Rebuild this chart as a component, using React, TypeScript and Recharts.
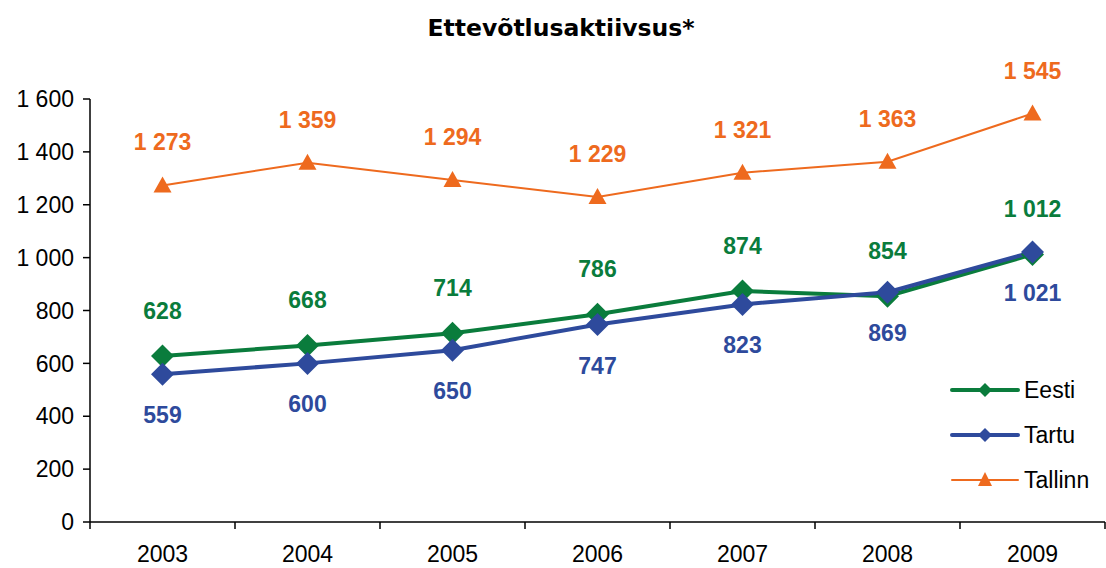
import { LineChart, Line, XAxis, YAxis, LabelList } from "recharts";

const years = ["2003", "2004", "2005", "2006", "2007", "2008", "2009"];
const eesti = [628, 668, 714, 786, 874, 854, 1012];
const tartu = [559, 600, 650, 747, 823, 869, 1021];
const tallinn = [1273, 1359, 1294, 1229, 1321, 1363, 1545];
const yTicks = [0, 200, 400, 600, 800, 1000, 1200, 1400, 1600];

const GREEN = "#0A7C3C";
const BLUE = "#2E4A9C";
const ORANGE = "#EE6A1E";
const FONT = "'Liberation Sans', Arial, sans-serif";

const W = 1106;
const H = 568;
const MARGIN = { top: 99, right: 1, bottom: 6, left: 0 };
const Y_WIDTH = 90;
const BAND = (W - MARGIN.left - MARGIN.right - Y_WIDTH) / years.length;

const data = years.map((y, i) => ({
  year: y,
  eesti: eesti[i],
  tartu: tartu[i],
  tallinn: tallinn[i],
}));

const fmt = (v: number) => String(v).replace(/\B(?=(\d{3})+(?!\d))/g, " ");

const Diamond = (props: any) => {
  const { cx, cy, fill } = props;
  if (cx == null || cy == null) return null;
  const r = 11.5;
  return <polygon points={`${cx},${cy - r} ${cx + r},${cy} ${cx},${cy + r} ${cx - r},${cy}`} fill={fill} />;
};

const Triangle = (props: any) => {
  const { cx, cy, fill } = props;
  if (cx == null || cy == null) return null;
  return <polygon points={`${cx},${cy - 9} ${cx + 9},${cy + 7} ${cx - 9},${cy + 7}`} fill={fill} />;
};

const makeLabel = (color: string, dy: number) => (props: any) => {
  const { x, y, value } = props;
  return (
    <text x={x} y={y + dy} fill={color} fontSize={23} fontWeight="bold" fontFamily={FONT}
      textAnchor="middle" dominantBaseline="central">
      {fmt(value)}
    </text>
  );
};

const XTick = (props: any) => {
  const { x, y, payload, index } = props;
  return (
    <g>
      <line x1={x - BAND / 2} x2={x - BAND / 2} y1={y - 8} y2={y - 1} stroke="#000" strokeWidth={1.5} />
      {index === years.length - 1 && (
        <line x1={x + BAND / 2} x2={x + BAND / 2} y1={y - 8} y2={y - 1} stroke="#000" strokeWidth={1.5} />
      )}
      <text x={x} y={y + 24} textAnchor="middle" dominantBaseline="central" fontSize={23} fontFamily={FONT} fill="#000">
        {payload.value}
      </text>
    </g>
  );
};

const legendItems = [
  { name: "Eesti", color: GREEN, width: 4, shape: "diamond" },
  { name: "Tartu", color: BLUE, width: 4, shape: "diamond" },
  { name: "Tallinn", color: ORANGE, width: 2, shape: "triangle" },
];

const LegendBox = () => (
  <svg width={166} height={140} style={{ position: "absolute", left: 940, top: 370 }}>
    {legendItems.map((it, i) => {
      const cy = 20 + i * 45;
      return (
        <g key={it.name}>
          <line x1={12} x2={78} y1={cy} y2={cy} stroke={it.color} strokeWidth={it.width} strokeLinecap="round" />
          {it.shape === "diamond" ? (
            <polygon points={`45,${cy - 7} 52,${cy} 45,${cy + 7} 38,${cy}`} fill={it.color} />
          ) : (
            <polygon points={`45,${cy - 8} 52,${cy + 6} 38,${cy + 6}`} fill={it.color} />
          )}
          <text x={84} y={cy} dominantBaseline="central" fontSize={23} fontFamily={FONT} fill="#000">
            {it.name}
          </text>
        </g>
      );
    })}
  </svg>
);

export default function App() {
  return (
    <div style={{ position: "absolute", left: 0, top: 0, width: W, height: H, background: "#fff", fontFamily: FONT }}>
      <div style={{
        position: "absolute", top: 13, left: 0, width: 1122, textAlign: "center", lineHeight: "30px",
        fontWeight: "bold", fontSize: 23.5, fontFamily: "'DejaVu Sans', Verdana, sans-serif",
      }}>
        Ettevõtlusaktiivsus*
      </div>
      <LineChart width={W} height={H} data={data} margin={MARGIN}>
        <XAxis
          dataKey="year"
          axisLine={{ stroke: "#000", strokeWidth: 1.5 }}
          tickLine={false}
          tick={<XTick />}
          height={40}
          interval={0}
          padding={{ left: BAND / 2, right: BAND / 2 }}
        />
        <YAxis
          width={Y_WIDTH}
          domain={[0, 1600]}
          ticks={yTicks}
          interval={0}
          axisLine={{ stroke: "#000", strokeWidth: 1.5 }}
          tickLine={{ stroke: "#000", strokeWidth: 1.5 }}
          tickSize={7}
          tick={{ fill: "#000", fontSize: 23, fontFamily: FONT, dx: -7 }}
          tickFormatter={fmt}
        />
        <Line dataKey="tallinn" name="Tallinn" stroke={ORANGE} strokeWidth={2} dot={<Triangle fill={ORANGE} />}
          activeDot={false} isAnimationActive={false}>
          <LabelList dataKey="tallinn" content={makeLabel(ORANGE, -43)} />
        </Line>
        <Line dataKey="eesti" name="Eesti" stroke={GREEN} strokeWidth={4} dot={<Diamond fill={GREEN} />}
          activeDot={false} isAnimationActive={false}>
          <LabelList dataKey="eesti" content={makeLabel(GREEN, -45)} />
        </Line>
        <Line dataKey="tartu" name="Tartu" stroke={BLUE} strokeWidth={4} dot={<Diamond fill={BLUE} />}
          activeDot={false} isAnimationActive={false}>
          <LabelList dataKey="tartu" content={makeLabel(BLUE, 41)} />
        </Line>
      </LineChart>
      <LegendBox />
    </div>
  );
}
